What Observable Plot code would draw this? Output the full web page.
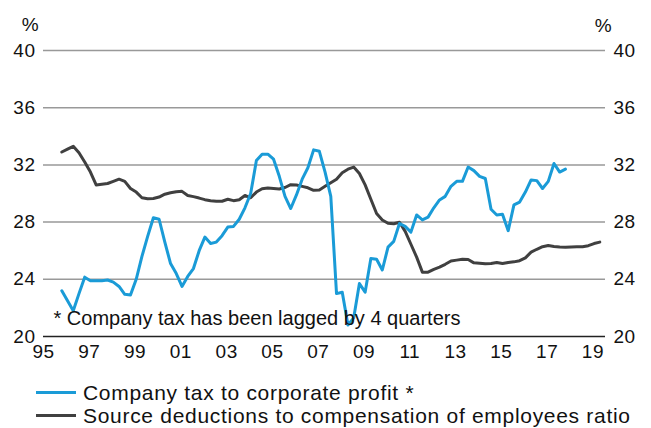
<!DOCTYPE html>
<html><head><meta charset="utf-8">
<script src="https://cdn.jsdelivr.net/npm/d3@7"></script>
<script src="https://cdn.jsdelivr.net/npm/@observablehq/plot@0.6"></script>
<style>
body{margin:0;background:#fff;font-family:"Liberation Sans",Arial,sans-serif;overflow:hidden;}
#legend{padding-top:9px;}
.row{height:23px;line-height:23px;font-size:21px;letter-spacing:0.7px;white-space:nowrap;color:#111;display:flex;align-items:center}
.sw{display:inline-block;width:40px;height:3px;margin-left:36px;margin-right:7px;}
</style></head><body>
<div id="chart"></div>
<div id="legend"></div>
<script>
const startYear = 1995.8; // first quarter shown
const companyTax = [
  23.2, 22.5, 21.8, 23.0, 24.15, 23.9, 23.9, 23.9, 23.95, 23.8,
  23.5, 22.95, 22.9, 24.0, 25.6, 27.0, 28.3, 28.2, 26.6, 25.1,
  24.4, 23.5, 24.2, 24.75, 26.0, 26.95, 26.5, 26.6, 27.05, 27.65,
  27.7, 28.2, 29.0, 30.0, 32.3, 32.75, 32.75, 32.4, 31.2, 29.8,
  28.95, 29.9, 31.0, 31.8, 33.05, 32.95, 31.5, 29.8, 23.0, 23.1,
  20.8, 21.3, 23.7, 23.1, 25.45, 25.4, 24.65, 26.25, 26.65, 27.9,
  27.7, 27.3, 28.5, 28.15, 28.35, 29.0, 29.55, 29.8, 30.5, 30.85,
  30.85, 31.85, 31.6, 31.2, 31.05, 28.9, 28.5, 28.55, 27.4, 29.2,
  29.4, 30.1, 30.95, 30.9, 30.35, 30.85, 32.1, 31.5, 31.7
];
const sourceDeductions = [
  32.9, 33.1, 33.3, 32.85, 32.2, 31.5, 30.6, 30.65, 30.7, 30.85,
  31.0, 30.85, 30.35, 30.1, 29.7, 29.63, 29.65, 29.75, 29.95, 30.05,
  30.12, 30.15, 29.86, 29.78, 29.68, 29.57, 29.5, 29.46, 29.46, 29.6,
  29.5, 29.56, 29.86, 29.7, 30.1, 30.33, 30.38, 30.35, 30.32, 30.42,
  30.62, 30.6, 30.5, 30.4, 30.22, 30.25, 30.5, 30.75, 31.0, 31.45,
  31.7, 31.85, 31.4, 30.6, 29.6, 28.6, 28.15, 27.92, 27.88, 27.99,
  27.35, 26.45, 25.55, 24.5, 24.5, 24.7, 24.85, 25.05, 25.28, 25.34,
  25.4, 25.38, 25.15, 25.13, 25.08, 25.1, 25.18, 25.1, 25.18, 25.22,
  25.3, 25.5, 25.9, 26.1, 26.28, 26.36, 26.3, 26.26, 26.24, 26.26,
  26.28, 26.28, 26.35, 26.5, 26.6
];
const yTicks = [20, 24, 28, 32, 36, 40];
const xTicks = [1995, 1997, 1999, 2001, 2003, 2005, 2007, 2009, 2011, 2013, 2015, 2017, 2019];
const seriesNames = ["Company tax to corporate profit *", "Source deductions to compensation of employees ratio"];
const seriesColors = ["#1a9bd7", "#404040"];
const footnote = "* Company tax has been lagged by 4 quarters";
const unitLabel = "%";

const toRows = (vals, name) => vals.map((v, i) => ({date: startYear + i * 0.25, value: v, series: name}));
const taxRows = toRows(companyTax, seriesNames[0]);
const srcRows = toRows(sourceDeductions, seriesNames[1]);

const plot = Plot.plot({
  width: 651, height: 372,
  marginTop: 50, marginBottom: 36, marginLeft: 43, marginRight: 46,
  style: {fontFamily: "'Liberation Sans', Arial, sans-serif", fontSize: "19px", color: "#111", background: "#fff", letterSpacing: "0.5px", overflow: "visible"},
  x: {domain: [1995, 2019.55], label: null},
  y: {domain: [20, 40], label: null},
  marks: [
    Plot.ruleY(yTicks.filter(d => d > 20), {stroke: "#999", strokeWidth: 1.5}),
    Plot.ruleY([yTicks[0]], {stroke: "#222", strokeWidth: 1.5}),
    Plot.axisX({ticks: xTicks, tickFormat: d => String(d).slice(2), tickSize: 0, tickPadding: 8, label: null, fontSize: 19}),
    Plot.axisY({anchor: "left", ticks: yTicks, tickSize: 0, tickPadding: 8, label: null, fontSize: 19}),
    Plot.axisY({anchor: "right", ticks: yTicks, tickSize: 0, tickPadding: 8, label: null, fontSize: 19}),
    Plot.line(srcRows, {x: "date", y: "value", stroke: seriesColors[1], strokeWidth: 3, strokeLinejoin: "round"}),
    Plot.line(taxRows, {x: "date", y: "value", stroke: seriesColors[0], strokeWidth: 3, strokeLinejoin: "round"}),
    Plot.text([footnote], {text: d => d, frameAnchor: "bottom-left", dx: 10, dy: -18, textAnchor: "start", lineAnchor: "middle", fontSize: 20, fill: "#111"}),
    Plot.text([unitLabel], {text: d => d, frameAnchor: "top-left", dx: -13, dy: -26, textAnchor: "middle", lineAnchor: "middle", fontSize: 19, fill: "#111"}),
    Plot.text([unitLabel], {text: d => d, frameAnchor: "top-right", dx: -2, dy: -25, textAnchor: "middle", lineAnchor: "middle", fontSize: 19, fill: "#111"})
  ]
});
document.getElementById("chart").appendChild(plot);
// footnote without extra tracking
plot.querySelectorAll("text").forEach(t => { if (t.textContent === footnote) t.style.letterSpacing = "0px"; });

const legend = document.getElementById("legend");
seriesNames.forEach((name, i) => {
  const row = document.createElement("div");
  row.className = "row";
  const sw = document.createElement("span");
  sw.className = "sw";
  sw.style.background = seriesColors[i];
  const label = document.createElement("span");
  label.textContent = name;
  row.appendChild(sw);
  row.appendChild(label);
  legend.appendChild(row);
});
</script>
</body></html>
